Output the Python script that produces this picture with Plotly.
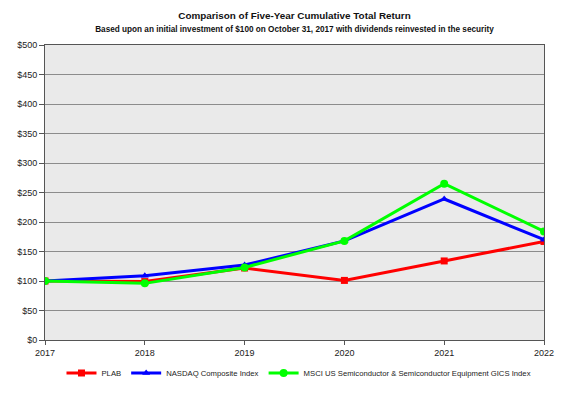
import plotly.graph_objects as go

years = ["2017", "2018", "2019", "2020", "2021", "2022"]
plab = [100, 99, 122, 101, 134, 167]
nasdaq = [100, 109, 127, 168, 239, 170]
msci = [100, 96, 123, 168, 265, 184]

series = [
    ("PLAB", plab, "#FF0000", "square", 7),
    ("NASDAQ Composite Index", nasdaq, "#0000FF", "triangle-up", 7),
    ("MSCI US Semiconductor & Semiconductor Equipment GICS Index", msci, "#00FF00", "circle", 8),
]

fig = go.Figure()
for name, vals, color, sym, sz in series:
    fig.add_trace(go.Scatter(
        x=list(range(len(years))), y=vals, name=name, mode="lines+markers",
        line=dict(color=color, width=3),
        marker=dict(color=color, symbol=sym, size=sz),
    ))

fig.update_layout(
    width=573, height=394,
    margin=dict(l=37, r=37, t=37, b=62, autoexpand=False),
    paper_bgcolor="white", plot_bgcolor="#EAEAEA",
    font=dict(family="Liberation Sans, Arial, sans-serif", size=9, color="#222"),
    title=dict(
        text="<b>Comparison of Five-Year Cumulative Total Return</b><br><span style='font-size:8.2px'><b>Based upon an initial investment of $100 on October 31, 2017 with dividends reinvested in the security</b></span>",
        x=0.5, xanchor="center", y=0.972, yanchor="top",
        font=dict(size=9.9, color="#111"),
    ),
    showlegend=True,
    legend=dict(orientation="h", x=0.509, xanchor="center", y=-0.112, yanchor="middle",
                font=dict(size=7.7), tracegroupgap=0, itemwidth=30),
    xaxis=dict(
        tickmode="array", tickvals=list(range(len(years))), ticktext=years,
        range=[0, 5], showgrid=False, zeroline=False,
        showline=True, linecolor="#555", linewidth=1, mirror=True,
        ticks="outside", ticklen=4, tickcolor="#555",
    ),
    yaxis=dict(
        range=[0, 500], dtick=50, tickprefix="$",
        showgrid=True, gridcolor="#8c8c8c", gridwidth=1, zeroline=False,
        showline=True, linecolor="#555", linewidth=1, mirror=True,
        ticks="outside", ticklen=5, tickcolor="#555",
    ),
)
fig.write_html("out.html")
